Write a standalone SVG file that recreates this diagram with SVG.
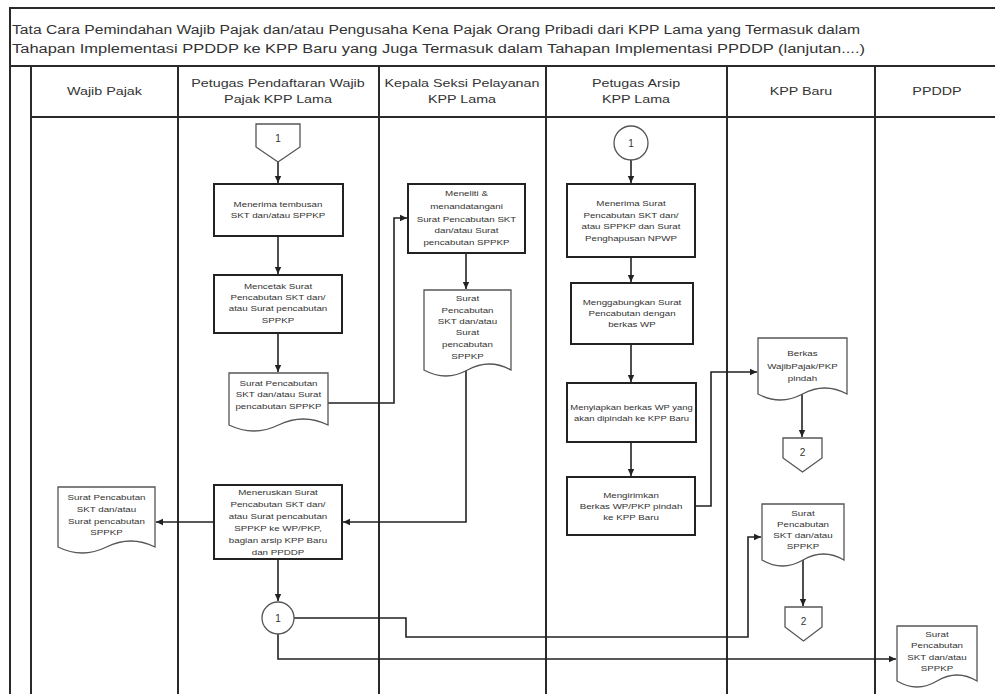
<svg xmlns="http://www.w3.org/2000/svg" width="995" height="694" viewBox="0 0 995 694">
  <style>
    .frame { fill: none; stroke: #2a2a2a; stroke-width: 2; }
    .lane { fill: none; stroke: #2a2a2a; stroke-width: 2; }
    .box { fill: #ffffff; stroke: #222222; stroke-width: 2; }
    .doc { fill: #ffffff; stroke: #555555; stroke-width: 1.3; }
    .conn { fill: #ffffff; stroke: #555555; stroke-width: 1.3; }
    .edge { fill: none; stroke: #222222; stroke-width: 1.6; }
    .title { font-family: "Liberation Sans", Arial, sans-serif; font-size: 12.5px; fill: #333333; }
    .hdr { font-family: "Liberation Sans", Arial, sans-serif; font-size: 11px; fill: #333333; text-anchor: middle; }
    .t { font-family: "Liberation Sans", Arial, sans-serif; font-size: 8px; fill: #333333; text-anchor: middle; }
  </style>
  <defs>
    <marker id="arrow" markerUnits="userSpaceOnUse" markerWidth="8" markerHeight="8" refX="7" refY="4" orient="auto">
      <path d="M0,0.8 L7,4 L0,7.2 z" fill="#222222"/>
    </marker>
  </defs>

  <rect width="995" height="694" fill="#ffffff"/>

  <!-- frame, title and swimlane grid -->
  <g id="frame">
    <path class="frame" d="M10,694 V8 H995 M10,66 H995 M31,117 H995"/>
    <path class="lane" d="M31,66 V694 M178,66 V694 M379,66 V694 M546,66 V694 M727,66 V694 M875,66 V694"/>
    <text class="title" x="12" y="33.5" textLength="848" lengthAdjust="spacingAndGlyphs">Tata Cara Pemindahan Wajib Pajak dan/atau Pengusaha Kena Pajak Orang Pribadi dari KPP Lama yang Termasuk dalam</text>
    <text class="title" x="12" y="52.5" textLength="853" lengthAdjust="spacingAndGlyphs">Tahapan Implementasi PPDDP ke KPP Baru yang Juga Termasuk dalam Tahapan Implementasi PPDDP (lanjutan....)</text>
  </g>

  <!-- lane headers -->
  <g id="headers">
    <g transform="translate(104.5 0) scale(1.3 1)"><text class="hdr" x="0" y="95">Wajib Pajak</text></g>
    <g transform="translate(278 0) scale(1.3 1)"><text class="hdr"><tspan x="0" y="87">Petugas Pendaftaran Wajib</tspan><tspan x="0" y="103">Pajak KPP Lama</tspan></text></g>
    <g transform="translate(462 0) scale(1.3 1)"><text class="hdr"><tspan x="0" y="87">Kepala Seksi Pelayanan</tspan><tspan x="0" y="103">KPP Lama</tspan></text></g>
    <g transform="translate(636 0) scale(1.3 1)"><text class="hdr"><tspan x="0" y="87">Petugas Arsip</tspan><tspan x="0" y="103">KPP Lama</tspan></text></g>
    <g transform="translate(801 0) scale(1.3 1)"><text class="hdr" x="0" y="95">KPP Baru</text></g>
    <g transform="translate(937 0) scale(1.3 1)"><text class="hdr" x="0" y="95">PPDDP</text></g>
  </g>

  <!-- connectors -->
  <g id="connectors" marker-end="url(#arrow)">
    <path class="edge" d="M278,162 V183"/>
    <path class="edge" d="M278,236 V274"/>
    <path class="edge" d="M278,333 V372"/>
    <path class="edge" d="M328,403 H394 V218 H407"/>
    <path class="edge" d="M466,253 V289"/>
    <path class="edge" d="M466,370 V522 H343"/>
    <path class="edge" d="M214,522 H156"/>
    <path class="edge" d="M278,559 V601"/>
    <path class="edge" d="M294,618 H406 V637 H748 V537 H761"/>
    <path class="edge" d="M278,634 V659 H896"/>
    <path class="edge" d="M631,160 V183"/>
    <path class="edge" d="M631,257 V282"/>
    <path class="edge" d="M631,344 V382"/>
    <path class="edge" d="M631,442 V476"/>
    <path class="edge" d="M695,506 H711 V372 H757"/>
    <path class="edge" d="M802,394 V437"/>
    <path class="edge" d="M803,560 V606"/>
  </g>

  <!-- Petugas Pendaftaran Wajib Pajak KPP Lama -->
  <g id="offpage-1">
    <polygon class="conn" points="256,124 300,124 300,147 278,162 256,147"/>
    <text class="t" x="278" y="142" style="font-size:10px">1</text>
  </g>
  <g id="menerima-tembusan">
    <rect class="box" x="214" y="184" width="129" height="52"/>
    <g transform="translate(278 0) scale(1.22 1)"><text class="t"><tspan x="0" y="207">Menerima tembusan</tspan><tspan x="0" y="218">SKT dan/atau SPPKP</tspan></text></g>
  </g>
  <g id="mencetak-surat">
    <rect class="box" x="214" y="275" width="128" height="58"/>
    <g transform="translate(278 0) scale(1.22 1)"><text class="t"><tspan x="0" y="289">Mencetak Surat</tspan><tspan x="0" y="300">Pencabutan SKT dan/</tspan><tspan x="0" y="311">atau Surat pencabutan</tspan><tspan x="0" y="323">SPPKP</tspan></text></g>
  </g>
  <g id="doc-surat-pencabutan">
    <path class="doc" d="M229,373 H328 V425 Q303.25,413 278.5,425 T229,425 Z"/>
    <g transform="translate(278.5 0) scale(1.22 1)"><text class="t"><tspan x="0" y="386">Surat Pencabutan</tspan><tspan x="0" y="397">SKT dan/atau Surat</tspan><tspan x="0" y="409">pencabutan SPPKP</tspan></text></g>
  </g>
  <g id="meneruskan-surat">
    <rect class="box" x="214" y="485" width="128" height="74"/>
    <g transform="translate(278 0) scale(1.22 1)"><text class="t"><tspan x="0" y="495">Meneruskan  Surat</tspan><tspan x="0" y="507">Pencabutan SKT dan/</tspan><tspan x="0" y="519">atau Surat pencabutan</tspan><tspan x="0" y="531">SPPKP ke WP/PKP,</tspan><tspan x="0" y="543">bagian arsip KPP Baru</tspan><tspan x="0" y="555">dan PPDDP</tspan></text></g>
  </g>
  <g id="onpage-1">
    <circle class="conn" cx="278" cy="618" r="16"/>
    <text class="t" x="278" y="621.5" style="font-size:10px">1</text>
  </g>

  <!-- Wajib Pajak -->
  <g id="doc-wajib-pajak">
    <path class="doc" d="M58,487 H155 V547 Q130.75,535 106.5,547 T58,547 Z"/>
    <g transform="translate(106.5 0) scale(1.22 1)"><text class="t"><tspan x="0" y="500">Surat Pencabutan</tspan><tspan x="0" y="512">SKT dan/atau</tspan><tspan x="0" y="524">Surat pencabutan</tspan><tspan x="0" y="535">SPPKP</tspan></text></g>
  </g>

  <!-- Kepala Seksi Pelayanan KPP Lama -->
  <g id="meneliti-menandatangani">
    <rect class="box" x="408" y="184" width="117" height="69"/>
    <g transform="translate(466.5 0) scale(1.22 1)"><text class="t"><tspan x="0" y="196">Meneliti &amp;</tspan><tspan x="0" y="209">menandatangani</tspan><tspan x="0" y="222">Surat Pencabutan SKT</tspan><tspan x="0" y="233">dan/atau Surat</tspan><tspan x="0" y="245">pencabutan SPPKP</tspan></text></g>
  </g>
  <g id="doc-kepala">
    <path class="doc" d="M424,290 H511 V370 Q489.25,358 467.5,370 T424,370 Z"/>
    <g transform="translate(467.5 0) scale(1.22 1)"><text class="t"><tspan x="0" y="301">Surat</tspan><tspan x="0" y="313">Pencabutan</tspan><tspan x="0" y="324">SKT dan/atau</tspan><tspan x="0" y="335">Surat</tspan><tspan x="0" y="347">pencabutan</tspan><tspan x="0" y="359">SPPKP</tspan></text></g>
  </g>

  <!-- Petugas Arsip KPP Lama -->
  <g id="onpage-1-arsip">
    <circle class="conn" cx="631" cy="143" r="17"/>
    <text class="t" x="631" y="146.5" style="font-size:10px">1</text>
  </g>
  <g id="menerima-surat">
    <rect class="box" x="567" y="184" width="128" height="73"/>
    <g transform="translate(631 0) scale(1.22 1)"><text class="t"><tspan x="0" y="206">Menerima Surat</tspan><tspan x="0" y="218">Pencabutan SKT dan/</tspan><tspan x="0" y="229">atau SPPKP dan Surat</tspan><tspan x="0" y="241">Penghapusan NPWP</tspan></text></g>
  </g>
  <g id="menggabungkan">
    <rect class="box" x="571" y="283" width="122" height="61"/>
    <g transform="translate(632 0) scale(1.22 1)"><text class="t"><tspan x="0" y="305">Menggabungkan Surat</tspan><tspan x="0" y="316">Pencabutan dengan</tspan><tspan x="0" y="327">berkas WP</tspan></text></g>
  </g>
  <g id="menyiapkan-berkas">
    <rect class="box" x="567" y="383" width="129" height="59"/>
    <g transform="translate(631.5 0) scale(1.18 1)"><text class="t"><tspan x="0" y="410">Menyiapkan berkas WP yang</tspan><tspan x="0" y="421">akan dipindah ke KPP Baru</tspan></text></g>
  </g>
  <g id="mengirimkan-berkas">
    <rect class="box" x="567" y="477" width="128" height="58"/>
    <g transform="translate(631 0) scale(1.22 1)"><text class="t"><tspan x="0" y="498">Mengirimkan</tspan><tspan x="0" y="509">Berkas WP/PKP pindah</tspan><tspan x="0" y="520">ke KPP Baru</tspan></text></g>
  </g>

  <!-- KPP Baru -->
  <g id="doc-berkas-pindah">
    <path class="doc" d="M758,338 H847 V394 Q824.75,382 802.5,394 T758,394 Z"/>
    <g transform="translate(802.5 0) scale(1.22 1)"><text class="t"><tspan x="0" y="356">Berkas</tspan><tspan x="0" y="369">WajibPajak/PKP</tspan><tspan x="0" y="381">pindah</tspan></text></g>
  </g>
  <g id="offpage-2a">
    <polygon class="conn" points="783,438 822,438 822,458 802.5,472 783,458"/>
    <text class="t" x="802.5" y="456" style="font-size:10px">2</text>
  </g>
  <g id="doc-kpp-baru">
    <path class="doc" d="M762,504 H844 V560 Q823.5,548 803,560 T762,560 Z"/>
    <g transform="translate(803 0) scale(1.22 1)"><text class="t"><tspan x="0" y="516">Surat</tspan><tspan x="0" y="527">Pencabutan</tspan><tspan x="0" y="538">SKT dan/atau</tspan><tspan x="0" y="549">SPPKP</tspan></text></g>
  </g>
  <g id="offpage-2b">
    <polygon class="conn" points="785,607 822,607 822,627 803.5,641 785,627"/>
    <text class="t" x="803.5" y="625" style="font-size:10px">2</text>
  </g>

  <!-- PPDDP -->
  <g id="doc-ppddp">
    <path class="doc" d="M897,626 H977 V681 Q957,669 937,681 T897,681 Z"/>
    <g transform="translate(937 0) scale(1.22 1)"><text class="t"><tspan x="0" y="637">Surat</tspan><tspan x="0" y="648">Pencabutan</tspan><tspan x="0" y="660">SKT dan/atau</tspan><tspan x="0" y="671">SPPKP</tspan></text></g>
  </g>
</svg>
